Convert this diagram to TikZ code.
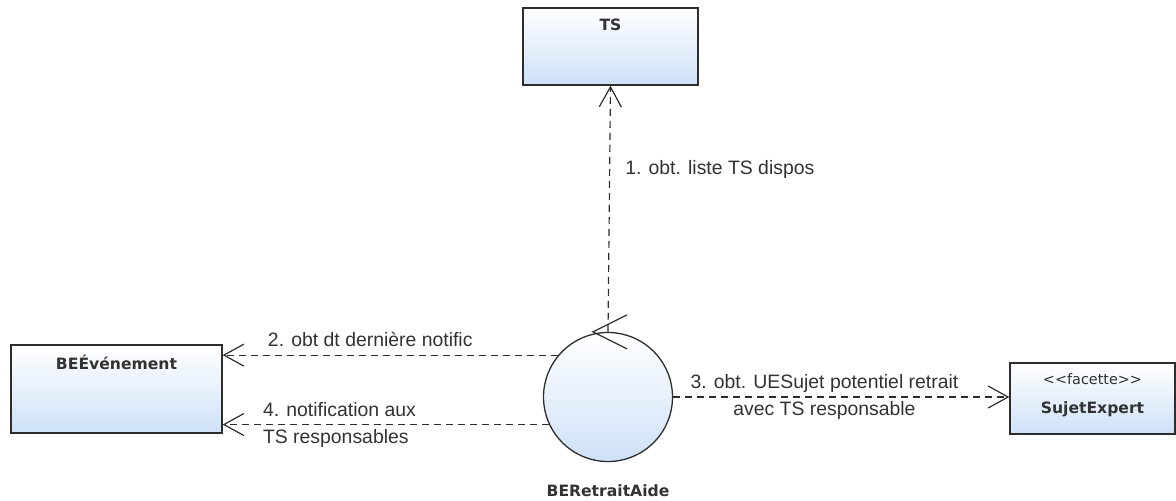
\documentclass[tikz,border=0pt]{standalone}
\usepackage{fontspec}
\setmainfont{Liberation Sans}
\newfontfamily\titlefont{DejaVu Sans}
\usetikzlibrary{arrows.meta,calc,positioning}
\definecolor{BoxBlue}{RGB}{206,225,248}
\definecolor{LineGray}{RGB}{45,45,45}
\definecolor{TextGray}{RGB}{50,50,50}

\begin{document}
\begin{tikzpicture}[x=0.5pt,y=-0.5pt,
    classbox/.style={draw=LineGray, line width=0.65pt, top color=white, bottom color=BoxBlue, inner sep=0pt},
    ctrlcircle/.style={circle, draw=LineGray, line width=0.65pt, top color=white, bottom color=BoxBlue, inner sep=0pt, minimum size=64.5pt},
    boxtitle/.style={font=\titlefont\bfseries\fontsize{7.8}{9}\selectfont, text=TextGray, inner sep=0pt},
    stereo/.style={font=\titlefont\fontsize{7.2}{8.5}\selectfont, text=TextGray, inner sep=0pt},
    msg/.style={font=\fontsize{9.7}{13.5}\selectfont, text=TextGray, inner sep=0pt},
    dep/.style={draw=LineGray, line width=0.6pt, dash pattern=on 3.5pt off 2.5pt, -{Straight Barb[length=10pt, width=11pt, line width=0.6pt]}}]
    \useasboundingbox (0,0) rectangle (1176,500);

    %% Classes
    \node[classbox, minimum width=87.5pt, minimum height=38.5pt] (ts) at (610.5,46.5) {};
    \node[boxtitle] (tstitle) at ($(ts.north)+(0,17)$) {TS};
    \node[classbox, minimum width=105.5pt, minimum height=44pt] (beev) at (116.5,389) {};
    \node[boxtitle] (beevtitle) at ($(beev.north)+(0,18)$) {BEÉvénement};
    \node[classbox, minimum width=82.5pt, minimum height=35.5pt] (sujet) at (1092.5,398.5) {};
    \node[stereo] (sujetstereo) at ($(sujet.north)+(0,17)$) {<<facette>>};
    \node[boxtitle] (sujettitle) at ($(sujet.north)+(0,47)$) {SujetExpert};

    %% Controller
    \node[ctrlcircle] (ctrl) at (608,397) {};
    \node[boxtitle] (ctrltitle) at ($(ctrl.south)+(0,28.5)$) {BERetraitAide};
    \draw[LineGray, line width=0.65pt] ($(ctrl.north)+(19,-17)$) -- ($(ctrl.north)+(-15,0)$) -- ($(ctrl.north)+(19,17)$);

    %% Arrows
    \draw[dep] (ctrl.north) -- (ts.south) node[msg, pos=0.66, right=7.5pt] (m1) {1. obt. liste TS dispos};
    \draw[dep] (ctrl.140) -- (ctrl.140 -| beev.east) node[msg, pos=0.56, above=4pt] (m2) {2. obt dt dernière notific};
    \draw[dep] (ctrl.east) -- (ctrl.east -| sujet.west) node[msg, pos=0.45, align=center] (m3) {3. obt. UESujet potentiel retrait\\avec TS responsable};
    \draw[dep] (ctrl.205) -- (ctrl.205 -| beev.east) node[msg, pos=0.878, anchor=west, align=left] (m4) {4. notification aux\\TS responsables};
\end{tikzpicture}
\end{document}
